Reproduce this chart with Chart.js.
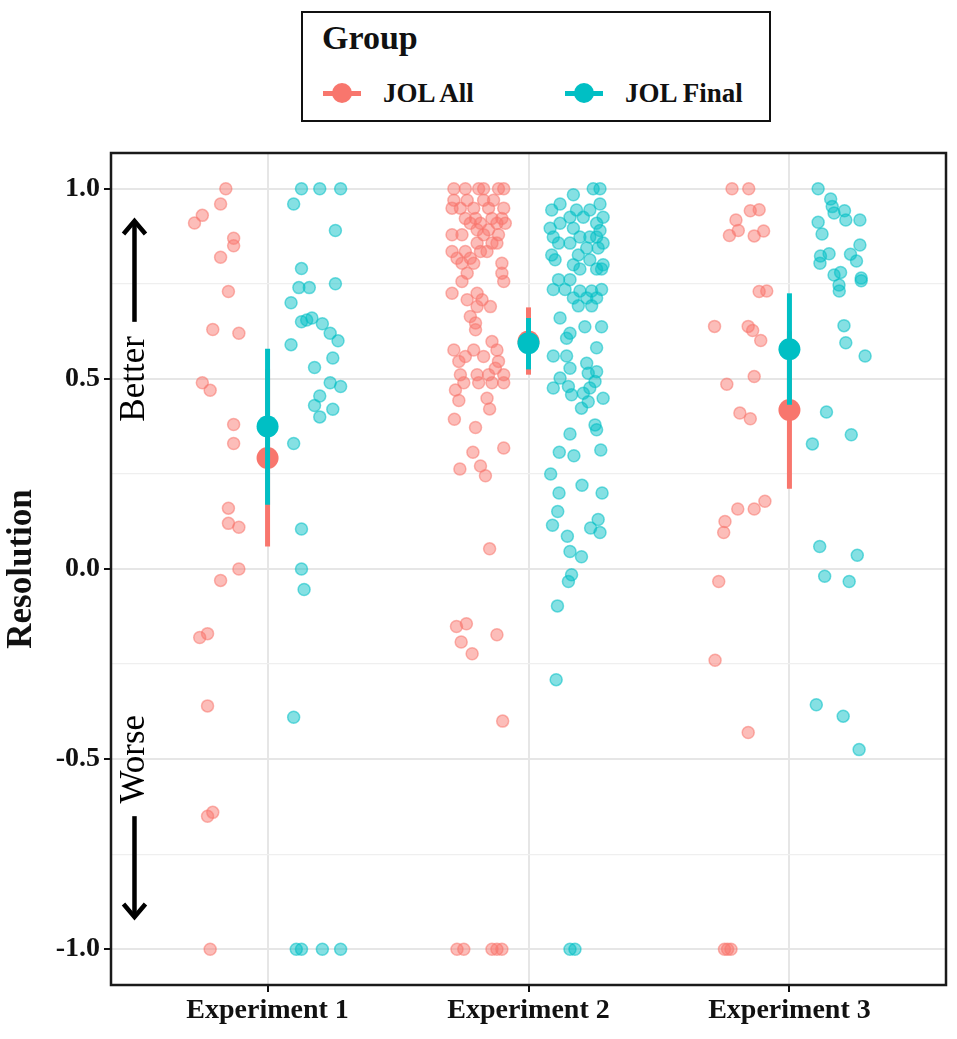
<!DOCTYPE html>
<html>
<head>
<meta charset="utf-8">
<script src="https://cdn.jsdelivr.net/npm/chart.js@4.4.1/dist/chart.umd.min.js"></script>
<style>
  body { margin: 0; background: #fff; }
  #wrap { position: relative; width: 957px; height: 1039px; }
  #chart { position: absolute; left: 0; top: 0; }
  .serif { font-family: "Liberation Serif", "Times New Roman", serif; font-weight: bold; color: #111; }
  #legend { position: absolute; left: 301px; top: 11px; width: 466px; height: 107px; border: 2px solid #111; background: #fff; }
  #legend .ttl { position: absolute; left: 19px; top: 8px; font-size: 34px; line-height: 34px; }
  #legend .lab { position: absolute; top: 67px; font-size: 27px; line-height: 27px; white-space: nowrap; }
  #legend .sym { position: absolute; top: 70px; width: 38px; height: 20px; }
  #legend .sym .ln { position: absolute; left: 0; top: 7.5px; width: 38px; height: 5px; }
  #legend .sym .dot { position: absolute; left: 9px; top: 0; width: 20px; height: 20px; border-radius: 50%; }
</style>
</head>
<body>
<div id="wrap">
  <canvas id="chart" width="957" height="1039"></canvas>
  <div id="legend" class="serif">
    <div class="ttl">Group</div>
    <div class="sym" style="left:20px"><div class="ln" style="background:#F8766D"></div><div class="dot" style="background:#F8766D"></div></div>
    <div class="lab" style="left:80px">JOL All</div>
    <div class="sym" style="left:262px"><div class="ln" style="background:#00BFC4"></div><div class="dot" style="background:#00BFC4"></div></div>
    <div class="lab" style="left:322px">JOL Final</div>
  </div>
</div>
<script>
var categories = ['Experiment 1', 'Experiment 2', 'Experiment 3'];
var yLabels = [-1, -0.5, 0, 0.5, 1];
var yGrid = [-1, -0.75, -0.5, -0.25, 0, 0.25, 0.5, 0.75, 1];

// jitter = horizontal offset from the experiment position, res = resolution
var e1AllJit = [-0.16,-0.18,-0.25,-0.28,-0.13,-0.13,-0.18,-0.15,-0.21,-0.11,-0.25,-0.22,-0.13,-0.13,-0.15,-0.15,-0.11,-0.11,-0.18,-0.26,-0.23,-0.23,-0.21,-0.23,-0.22];
var e1AllRes = [1.00,0.96,0.93,0.91,0.87,0.85,0.82,0.73,0.63,0.62,0.49,0.47,0.38,0.33,0.16,0.12,0.11,0.00,-0.03,-0.18,-0.17,-0.36,-0.64,-0.65,-1.00];

var e1FinJit = [0.13,0.20,0.28,0.10,0.26,0.13,0.12,0.16,0.26,0.09,0.13,0.15,0.17,0.21,0.24,0.27,0.09,0.25,0.18,0.24,0.28,0.20,0.18,0.25,0.20,0.10,0.13,0.13,0.14,0.10,0.11,0.13,0.21,0.28];
var e1FinRes = [1.00,1.00,1.00,0.96,0.89,0.79,0.74,0.74,0.75,0.70,0.65,0.655,0.66,0.645,0.62,0.60,0.59,0.555,0.53,0.49,0.48,0.455,0.43,0.42,0.40,0.33,0.105,0.00,-0.054,-0.39,-1.00,-1.00,-1.00,-1.00];

var e2AllJit = [
  -0.286,-0.242,-0.191,-0.172,-0.115,-0.095,
  -0.286,-0.235,-0.172,-0.134,
  -0.293,-0.261,-0.210,-0.153,-0.095,
  -0.242,-0.203,-0.140,-0.102,
  -0.223,-0.184,-0.121,-0.089,
  -0.197,-0.153,
  -0.293,-0.255,-0.172,-0.115,
  -0.197,-0.140,-0.121,
  -0.293,-0.242,-0.184,-0.159,
  -0.274,-0.223,
  -0.255,-0.210,-0.102,
  -0.235,-0.102,
  -0.255,-0.095,
  -0.293,-0.197,
  -0.235,-0.178,
  -0.197,-0.146,
  -0.223,-0.203,-0.203,-0.140,
  -0.286,-0.210,-0.121,
  -0.242,-0.172,
  -0.267,-0.115,-0.127,
  -0.261,-0.197,-0.153,-0.095,
  -0.248,-0.191,-0.140,-0.095,
  -0.280,-0.267,-0.159,-0.149,-0.284,-0.203,
  -0.095,-0.213,-0.263,-0.184,-0.165,-0.149,
  -0.276,-0.238,-0.258,-0.216,-0.121,-0.099,
  -0.274,-0.248,-0.140,-0.121,-0.102
];
var e2AllRes = [
  1.00,1.00,1.00,1.00,1.00,1.00,
  0.970,0.970,0.970,0.970,
  0.949,0.949,0.949,0.949,0.949,
  0.922,0.922,0.922,0.922,
  0.909,0.909,0.909,0.909,
  0.892,0.892,
  0.879,0.879,0.879,0.879,
  0.857,0.857,0.857,
  0.835,0.835,0.835,0.835,
  0.817,0.817,
  0.804,0.804,0.804,
  0.778,0.778,
  0.756,0.756,
  0.725,0.725,
  0.708,0.708,
  0.690,0.690,
  0.664,0.647,0.629,0.598,
  0.576,0.576,0.576,
  0.559,0.559,
  0.546,0.546,0.528,
  0.511,0.511,0.511,0.511,
  0.490,0.490,0.490,0.490,
  0.471,0.443,0.449,0.421,0.394,0.372,
  0.318,0.307,0.263,0.271,0.245,0.053,
  -0.151,-0.144,-0.192,-0.223,-0.173,-0.400,
  -1.00,-1.00,-1.00,-1.00,-1.00
];

var e2FinJit = [
  0.248,0.274,0.172,0.121,0.274,
  0.089,0.184,0.235,0.159,0.210,0.286,
  0.121,0.261,0.083,0.172,0.274,
  0.095,0.197,0.235,0.261,
  0.115,0.159,0.286,0.223,0.267,
  0.191,0.089,0.102,0.235,0.172,0.286,
  0.197,0.261,0.280,0.115,0.159,
  0.095,0.140,0.280,0.197,0.242,
  0.172,0.223,0.261,0.191,0.242,
  0.121,0.216,0.280,0.159,0.146,0.261,
  0.095,0.146,0.159,0.223,0.229,0.121,0.261,
  0.095,0.153,0.165,0.210,0.235,0.255,0.286,0.229,0.203,
  0.255,0.261,0.159,0.118,0.174,0.277,
  0.085,0.205,0.117,0.282,
  0.112,0.092,0.267,0.238,0.274,
  0.149,0.159,0.203,0.165,0.153,
  0.111,0.106,0.159,0.178
];
var e2FinRes = [
  1.00,1.00,0.984,0.960,0.960,
  0.944,0.944,0.944,0.925,0.925,0.925,
  0.909,0.909,0.896,0.896,0.890,
  0.873,0.873,0.873,0.873,
  0.857,0.857,0.857,0.844,0.844,
  0.826,0.826,0.813,0.813,0.800,0.800,
  0.789,0.789,0.789,0.761,0.761,
  0.735,0.735,0.735,0.731,0.731,
  0.713,0.713,0.713,0.692,0.692,
  0.660,0.637,0.637,0.620,0.607,0.582,
  0.560,0.560,0.528,0.541,0.515,0.502,0.519,
  0.476,0.480,0.458,0.462,0.476,0.493,0.449,0.440,0.423,
  0.379,0.366,0.355,0.307,0.298,0.313,
  0.250,0.220,0.200,0.200,
  0.151,0.115,0.130,0.108,0.096,
  0.086,0.046,0.032,-0.015,-0.033,
  -0.097,-0.291,-1.00,-1.00
];

var e3AllJit = [-0.220,-0.156,-0.150,-0.116,-0.205,-0.196,-0.230,-0.135,-0.099,-0.116,-0.087,-0.287,-0.158,-0.141,-0.110,-0.135,-0.240,-0.190,-0.150,-0.094,-0.198,-0.135,-0.247,-0.252,-0.271,-0.285,-0.158,-0.249,-0.237,-0.224];
var e3AllRes = [1.00,1.00,0.942,0.945,0.918,0.890,0.877,0.876,0.889,0.730,0.731,0.638,0.638,0.627,0.601,0.506,0.486,0.410,0.395,0.178,0.158,0.158,0.125,0.096,-0.033,-0.240,-0.430,-1.00,-1.00,-1.00];

var e3FinJit = [0.110,0.158,0.164,0.171,0.211,0.216,0.270,0.110,0.125,0.270,0.119,0.152,0.234,0.117,0.257,0.171,0.196,0.190,0.191,0.275,0.275,0.209,0.216,0.290,0.142,0.237,0.088,0.116,0.260,0.135,0.229,0.103,0.206,0.267];
var e3FinRes = [1.00,0.973,0.953,0.936,0.942,0.918,0.918,0.912,0.881,0.852,0.823,0.829,0.828,0.804,0.810,0.773,0.780,0.747,0.731,0.765,0.758,0.640,0.595,0.560,0.413,0.353,0.329,0.059,0.036,-0.019,-0.033,-0.357,-0.387,-0.475];

// summary: mean with interval per experiment
var allMean = [0.292, 0.598, 0.418];
var allLow  = [0.059, 0.511, 0.211];
var allHigh = [0.525, 0.688, 0.625];
var finMean = [0.375, 0.594, 0.578];
var finLow  = [0.169, 0.525, 0.432];
var finHigh = [0.579, 0.660, 0.725];

var RED = '#F8766D', TEAL = '#00BFC4';
var FONT = '"Liberation Serif", "Times New Roman", serif';

function pts(exp, jit, res) {
  return res.map(function (v, i) { return { x: exp + jit[i], y: v }; });
}

var allPts = pts(1, e1AllJit, e1AllRes).concat(pts(2, e2AllJit, e2AllRes), pts(3, e3AllJit, e3AllRes));
var finPts = pts(1, e1FinJit, e1FinRes).concat(pts(2, e2FinJit, e2FinRes), pts(3, e3FinJit, e3FinRes));

var datasets = [
  { data: allPts, pointRadius: 6, pointBackgroundColor: 'rgba(248,118,109,0.48)', pointBorderColor: 'rgba(248,118,109,0.55)', pointBorderWidth: 1.5, order: 10 },
  { data: finPts, pointRadius: 6, pointBackgroundColor: 'rgba(0,191,196,0.48)', pointBorderColor: 'rgba(0,191,196,0.55)', pointBorderWidth: 1.5, order: 9 }
];

function addRange(mean, low, high, color, order) {
  for (var i = 0; i < mean.length; i++) {
    datasets.push({
      data: [{ x: i + 1, y: low[i] }, { x: i + 1, y: high[i] }],
      showLine: true, borderColor: color, borderWidth: 5, borderCapStyle: 'butt',
      pointRadius: 0, order: order + 1
    });
  }
  datasets.push({
    data: mean.map(function (v, i) { return { x: i + 1, y: v }; }),
    pointRadius: 11, pointBackgroundColor: color, pointBorderWidth: 0, order: order
  });
}
addRange(allMean, allLow, allHigh, RED, 7);
addRange(finMean, finLow, finHigh, TEAL, 1);

var frame = {
  id: 'frame',
  afterDraw: function (chart) {
    var ctx = chart.ctx, a = chart.chartArea, x = chart.scales.x, y = chart.scales.y;
    ctx.save();
    ctx.strokeStyle = '#1a1a1a';
    ctx.lineWidth = 2.5;
    ctx.strokeRect(a.left, a.top, a.right - a.left, a.bottom - a.top);

    // Better / Worse arrows
    var ax = x.getPixelForValue(0.49);
    ctx.strokeStyle = '#000';
    ctx.lineWidth = 4.5;
    ctx.lineJoin = 'miter';
    [[0.65, 0.915], [-0.65, -0.915]].forEach(function (seg) {
      var p0 = y.getPixelForValue(seg[0]), p1 = y.getPixelForValue(seg[1]);
      var dir = p1 < p0 ? 1 : -1;
      ctx.beginPath();
      ctx.moveTo(ax, p0);
      ctx.lineTo(ax, p1 + dir * 2);
      ctx.stroke();
      ctx.beginPath();
      ctx.moveTo(ax - 11, p1 + dir * 13);
      ctx.lineTo(ax, p1);
      ctx.lineTo(ax + 11, p1 + dir * 13);
      ctx.stroke();
    });
    ctx.fillStyle = '#000';
    ctx.font = '35px ' + FONT;
    ctx.textAlign = 'center';
    ctx.textBaseline = 'middle';
    [['Better', 0.5], ['Worse', -0.5]].forEach(function (t) {
      ctx.save();
      ctx.translate(ax, y.getPixelForValue(t[1]));
      ctx.rotate(-Math.PI / 2);
      ctx.fillText(t[0], 0, 0);
      ctx.restore();
    });

    // axis title
    ctx.font = 'bold 35px ' + FONT;
    ctx.fillStyle = '#111';
    ctx.save();
    ctx.translate(22, (a.top + a.bottom) / 2);
    ctx.rotate(-Math.PI / 2);
    ctx.fillText('Resolution', 0, 0);
    ctx.restore();
    ctx.restore();
  }
};

function isMajor(v) { return yLabels.some(function (m) { return Math.abs(m - v) < 1e-6; }); }

new Chart(document.getElementById('chart'), {
  type: 'scatter',
  data: { datasets: datasets },
  options: {
    responsive: false,
    animation: false,
    events: [],
    layout: { padding: { top: 153, right: 3, left: 0, bottom: 0 } },
    plugins: { legend: { display: false }, tooltip: { enabled: false } },
    scales: {
      x: {
        type: 'linear', min: 0.4, max: 3.6,
        afterBuildTicks: function (s) { s.ticks = categories.map(function (c, i) { return { value: i + 1 }; }); },
        afterFit: function (s) { s.height = 54; },
        ticks: {
          callback: function (v) { return categories[Math.round(v) - 1]; },
          font: { family: FONT, size: 28, weight: 'bold' }, color: '#111',
          padding: 2, autoSkip: false, maxRotation: 0
        },
        grid: { color: '#e6e6e6', lineWidth: 2, tickColor: '#111', tickLength: 7, tickWidth: 2 },
        border: { display: false }
      },
      y: {
        min: -1.094, max: 1.094,
        afterBuildTicks: function (s) { s.ticks = yGrid.map(function (v) { return { value: v }; }); },
        afterFit: function (s) { s.width = 111; },
        ticks: {
          callback: function (v) { return isMajor(v) ? v.toFixed(1) : ''; },
          font: { family: FONT, size: 28, weight: 'bold' }, color: '#111',
          padding: 4, autoSkip: false
        },
        grid: {
          color: function (c) { return isMajor(c.tick.value) ? '#e6e6e6' : '#efefef'; },
          lineWidth: function (c) { return isMajor(c.tick.value) ? 2 : 1.3; },
          tickColor: function (c) { return isMajor(c.tick.value) ? '#111' : 'rgba(0,0,0,0)'; },
          tickLength: 7, tickWidth: 2
        },
        border: { display: false }
      }
    }
  },
  plugins: [frame]
});
</script>
</body>
</html>
